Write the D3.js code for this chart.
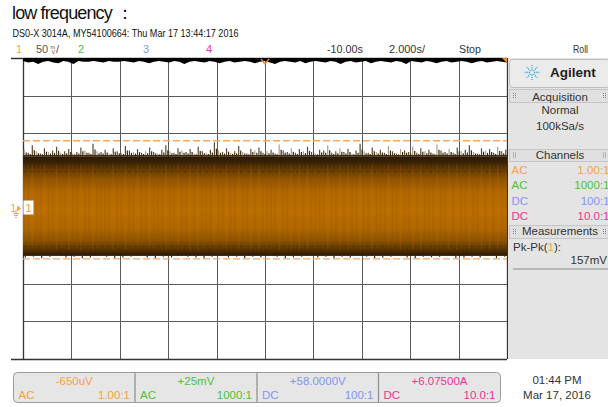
<!DOCTYPE html>
<html><head><meta charset="utf-8">
<script src="https://cdn.jsdelivr.net/npm/d3@7/dist/d3.min.js"></script>
<style>
html,body{margin:0;padding:0;background:#fff;}
svg{display:block;}
text{font-family:'Liberation Sans Narrow','Liberation Sans',Arial,sans-serif;}
</style></head>
<body>
<svg id="c" width="608" height="407"></svg>
<script>
// ---------- data ----------
const timeDomain = [-20, 0];          // seconds (roll mode, 2 s/div, delay -10 s)
const voltDomain = [-200, 200];       // mV (50 mV/div, 8 div)
const xTicks = [-20, -18, -16, -14, -12, -10, -8, -6, -4, -2, 0];
const yTicks = [-200, -150, -100, -50, 0, 50, 100, 150, 200];
const bandHigh = 69;                  // dense envelope top (mV)
const bandLow = -63;                  // dense envelope bottom (mV)
const pkMax = 90, pkMin = -67;        // Pk-Pk markers (157 mV)
const upperPeaks = [78,74,84,76,73,80,75,77,82,74,76,79,73,75,81,77,74,86,76,75,78,73,80,76,74,83,77,75,79,74,
  76,81,75,73,78,84,76,74,80,77,75,79,73,82,76,74,78,88,77,75,80,74,76,83,75,73,79,77,81,74,
  76,78,73,85,77,75,80,74,79,76,82,75,73,78,77,84,74,76,80,75,79,73,77,86,76,74,81,75,78,74,
  83,76,73,79,77,75,82,74,80,76,78,73,85,77,75,79,74,81,76,78,84,75,73,80,77,79,74,82,76,78];
const lowerPeaks = [-65,-64,-66,-64,-63,-65,-64,-66,-65,-63,-64,-66,-65,-64,-63,-65,-66,-64,-65,-63,
  -64,-65,-66,-64,-63,-65,-64,-66,-64,-65,-63,-64,-66,-65,-64,-63,-65,-64,-66,-64,
  -65,-63,-64,-66,-65,-64,-63,-65,-66,-64,-65,-64,-63,-66,-65,-64,-65,-63,-66,-64];
const overviewTrace = [196,194,195,192,195,196,194,193,196,195,192,196,195,195,196,195,194,196,195,195,
  196,195,194,196,195,193,195,196,195,194,196,195,192,195,196,195,194,196,195,193,
  195,196,194,195,196,195,193,195,196,194,192,195,196,195,194,196,193,195,196,195,
  194,196,195,192,195,196,194,195,196,193,195,196,195,194,196,195,192,196,195,194,
  196,195,193,195,196,194,195,196,195,193,195,196,194,195,196,195,194];
const chNames = ["1", "2", "3", "4"];
const chColors = ["#f5a33a", "#4cc23c", "#8494f5", "#ee3390"];
const chCoupling = ["AC", "AC", "DC", "DC"];
const chProbe = ["1.00:1", "1000:1", "100:1", "10.0:1"];
const chOffset = ["-650uV", "+25mV", "+58.0000V", "+6.07500A"];

// ---------- scales ----------
const svg = d3.select("#c");
const x = d3.scaleLinear().domain(timeDomain).range([23, 507]);
const y = d3.scaleLinear().domain(voltDomain).range([359, 58]);

// ---------- header text ----------
svg.append("text").attr("x", 12).attr("y", 19).attr("font-size", 18)
  .style("font-family", "'Liberation Sans',Arial,sans-serif").attr("fill", "#111")
  .attr("textLength", 122).attr("lengthAdjust", "spacing")
  .text("low frequency ：");
svg.append("text").attr("x", 12.5).attr("y", 37).attr("font-size", 10.5).attr("fill", "#111")
  .attr("textLength", 226).attr("lengthAdjust", "spacingAndGlyphs")
  .text("DS0-X 3014A, MY54100664: Thu Mar 17 13:44:17 2016");

svg.append("text").attr("x", 16).attr("y", 53).attr("font-size", 11).attr("fill", chColors[0]).text("1");
svg.append("text").attr("x", 36).attr("y", 53).attr("font-size", 11).attr("fill", "#555").text("50");
svg.append("text").attr("x", 50.5).attr("y", 48.5).attr("font-size", 5.5).attr("fill", "#555").text("m");
svg.append("text").attr("x", 51.5).attr("y", 53.5).attr("font-size", 5.5).attr("fill", "#555").text("V");
svg.append("text").attr("x", 56).attr("y", 53).attr("font-size", 11).attr("fill", "#555").text("/");
[[1, 78], [2, 143], [3, 206]].forEach(([i, px]) => {
  svg.append("text").attr("x", px).attr("y", 53).attr("font-size", 11).attr("fill", chColors[i]).text(chNames[i]);
});
const topRight = [["-10.00s", 327, 36], ["2.000s/", 389, 36], ["Stop", 459, 22], ["Roll", 573, 15]];
topRight.forEach(([t, px, w]) => {
  svg.append("text").attr("x", px).attr("y", 53).attr("font-size", 11).attr("fill", "#333")
    .attr("textLength", w).attr("lengthAdjust", "spacingAndGlyphs").text(t);
});

// ---------- grid ----------
const grid = svg.append("g").attr("shape-rendering", "crispEdges");
grid.selectAll("line.v").data(xTicks).join("line").attr("class", "v")
  .attr("x1", d => Math.round(x(d)) + 0.5).attr("x2", d => Math.round(x(d)) + 0.5)
  .attr("y1", y(200)).attr("y2", y(-200)).attr("stroke", "#5a5a5a").attr("stroke-width", 1);
grid.selectAll("line.h").data(yTicks).join("line").attr("class", "h")
  .attr("x1", x(-20)).attr("x2", x(0))
  .attr("y1", d => Math.round(y(d)) + 0.5).attr("y2", d => Math.round(y(d)) + 0.5)
  .attr("stroke", "#5a5a5a").attr("stroke-width", 1);
// outer frame lines
[200, -200].forEach(v => {
  svg.append("line").attr("x1", 11).attr("x2", x(0)).attr("y1", Math.round(y(v)) + 0.5).attr("y2", Math.round(y(v)) + 0.5)
    .attr("stroke", "#333").attr("stroke-width", 1.6);
});
svg.append("line").attr("x1", Math.round(x(-20)) + 0.5).attr("x2", Math.round(x(-20)) + 0.5)
  .attr("y1", y(200)).attr("y2", y(-200)).attr("stroke", "#333").attr("stroke-width", 1.3);
svg.append("line").attr("x1", Math.round(x(0)) + 0.5).attr("x2", Math.round(x(0)) + 0.5)
  .attr("y1", y(200)).attr("y2", y(-200)).attr("stroke", "#333").attr("stroke-width", 1.3);

// ---------- overview strip at top ----------
const ovx = d3.scaleLinear().domain([0, overviewTrace.length - 1]).range(timeDomain);
svg.append("path").datum(overviewTrace)
  .attr("d", d3.area().x((d, i) => x(ovx(i))).y0(y(200)).y1(d => y(d)))
  .attr("fill", "#000");

// ---------- trace ----------
const defs = svg.append("defs");
const grad = defs.append("linearGradient").attr("id", "band").attr("x1", 0).attr("x2", 0).attr("y1", 0).attr("y2", 1);
[[0, "#2a1804"], [0.07, "#3c2406"], [0.14, "#663c02"], [0.23, "#915500"], [0.36, "#b26800"],
 [0.55, "#bb6e00"], [0.72, "#b06700"], [0.84, "#8f5400"], [0.92, "#603800"], [0.97, "#3c2406"], [1, "#2a1804"]]
  .forEach(([o, c]) => grad.append("stop").attr("offset", o).attr("stop-color", c));

const upx = d3.scaleLinear().domain([0, upperPeaks.length - 1]).range([timeDomain[0] + 0.05, timeDomain[1] - 0.05]);
const lox = d3.scaleLinear().domain([0, lowerPeaks.length - 1]).range([timeDomain[0] + 0.1, timeDomain[1] - 0.1]);

const trace = svg.append("g");
trace.selectAll("line.up").data(upperPeaks).join("line").attr("class", "up")
  .attr("x1", (d, i) => x(upx(i))).attr("x2", (d, i) => x(upx(i)))
  .attr("y1", y(bandHigh)).attr("y2", d => y(d))
  .attr("stroke", (d, i) => i % 3 === 0 ? "#9c8c7a" : "#3e2a10").attr("stroke-width", 1.2).attr("opacity", 0.85);
trace.selectAll("line.up2").data(upperPeaks).join("line").attr("class", "up2")
  .attr("x1", (d, i) => x(upx(i)) + 2).attr("x2", (d, i) => x(upx(i)) + 2)
  .attr("y1", y(bandHigh)).attr("y2", d => y((d + bandHigh) / 2 + 1))
  .attr("stroke", "#3a2608").attr("stroke-width", 1.2);
trace.append("rect").attr("x", x(timeDomain[0])).attr("width", x(timeDomain[1]) - x(timeDomain[0]))
  .attr("y", y(bandHigh + 2)).attr("height", y(bandHigh) - y(bandHigh + 2)).attr("fill", "#3a2608");
trace.append("rect").attr("x", x(timeDomain[0])).attr("width", x(timeDomain[1]) - x(timeDomain[0]))
  .attr("y", y(bandHigh)).attr("height", y(bandLow) - y(bandHigh)).attr("fill", "url(#band)");
trace.selectAll("line.lo").data(lowerPeaks).join("line").attr("class", "lo")
  .attr("x1", (d, i) => x(lox(i))).attr("x2", (d, i) => x(lox(i)))
  .attr("y1", y(bandLow)).attr("y2", d => y(d))
  .attr("stroke", "#3a2608").attr("stroke-width", 1.2);
// vertical streaks
trace.selectAll("line.st").data(upperPeaks).join("line").attr("class", "st")
  .attr("x1", (d, i) => x(upx(i))).attr("x2", (d, i) => x(upx(i)))
  .attr("y1", y(bandHigh - 10)).attr("y2", y(bandLow + 8))
  .attr("stroke", (d, i) => d > 78 ? "#d07c00" : "#8a5000").attr("stroke-width", 1.5).attr("opacity", 0.18);
// grid lines faintly visible through trace
trace.selectAll("line.gh").data(yTicks.filter(v => v < bandHigh && v > bandLow && v !== 0)).join("line").attr("class", "gh")
  .attr("x1", x(-20)).attr("x2", x(0))
  .attr("y1", d => Math.round(y(d)) + 0.5).attr("y2", d => Math.round(y(d)) + 0.5)
  .attr("stroke", "#3a2a18").attr("stroke-dasharray", "3,4").attr("opacity", 0.55).attr("shape-rendering", "crispEdges");

// Pk-Pk markers
[pkMax, pkMin].forEach(v => {
  svg.append("line").attr("x1", x(-20)).attr("x2", x(0)).attr("y1", y(v)).attr("y2", y(v))
    .attr("stroke", "#fba55a").attr("stroke-width", 1.4).attr("stroke-dasharray", "7,3");
});

// trigger/time reference marker
const tx = x(-10);
svg.append("path").attr("d", `M${tx - 4},${y(200) + 1}L${tx},${y(200) + 6}L${tx + 4},${y(200) + 1}`)
  .attr("fill", "none").attr("stroke", "#f08a20").attr("stroke-width", 1.3);
svg.append("path").attr("d", `M${x(0) - 5},${y(200)}L${x(0)},${y(200)}L${x(0)},${y(200) + 5}Z`).attr("fill", "#f08a20");

// channel 1 ground marker
const gy = y(0);
svg.append("text").attr("x", 10.5).attr("y", gy + 3).attr("font-size", 10).attr("fill", chColors[0]).text("1");
svg.append("path").attr("d", `M17,${gy - 3}L21,${gy}L17,${gy + 3}Z`).attr("fill", chColors[0]);
svg.append("path").attr("d", `M16,${gy + 1}V${gy + 5}M13,${gy + 5}H19M14,${gy + 7}H18M15,${gy + 9}H17`)
  .attr("stroke", chColors[0]).attr("stroke-width", 0.9).attr("fill", "none");
svg.append("rect").attr("x", 23.5).attr("y", gy - 8).attr("width", 10).attr("height", 14).attr("fill", "#fff");
svg.append("text").attr("x", 28.5).attr("y", gy + 3.5).attr("font-size", 11).attr("text-anchor", "middle")
  .attr("fill", chColors[0]).text("1");

// ---------- right panel ----------
const P = svg.append("g");
P.append("rect").attr("x", 508).attr("y", 58).attr("width", 100).attr("height", 301).attr("fill", "#e4e4e4");
P.append("rect").attr("x", 509.5).attr("y", 59.5).attr("width", 100).attr("height", 28).attr("rx", 3)
  .attr("fill", "#ebebeb").attr("stroke", "#bdbdbd");
// Agilent logo spark
const lg = P.append("g").attr("transform", "translate(532,72.5)");
d3.range(8).forEach(k => {
  const a = k * Math.PI / 4;
  lg.append("line").attr("x1", Math.cos(a) * 2).attr("y1", Math.sin(a) * 2)
    .attr("x2", Math.cos(a) * 7.5).attr("y2", Math.sin(a) * 7.5)
    .attr("stroke", "#38a8dc").attr("stroke-width", 1.3).attr("stroke-dasharray", "1.3,1");
});
P.append("text").attr("x", 550).attr("y", 77).attr("font-size", 13.5).attr("font-weight", "bold")
  .style("font-family", "'Liberation Sans',Arial,sans-serif").attr("fill", "#222").text("Agilent");

function header(y0, y1, label, base) {
  P.append("rect").attr("x", 509.5).attr("y", y0 + 0.5).attr("width", 100).attr("height", y1 - y0)
    .attr("fill", "#e0e0e0").attr("stroke", "#c6c6c6");
  [513, 603].forEach(dx => {
    [0, 1].forEach(c => [0, 1, 2].forEach(r => {
      P.append("rect").attr("x", dx + c * 2).attr("y", (y0 + y1) / 2 - 2.5 + r * 2).attr("width", 1).attr("height", 1).attr("fill", "#888");
    }));
  });
  P.append("text").attr("x", 560).attr("y", base).attr("text-anchor", "middle").attr("font-size", 11.5)
    .attr("fill", "#333").text(label);
}
header(89, 102, "Acquisition", 100.5);
P.append("text").attr("x", 560).attr("y", 114).attr("text-anchor", "middle").attr("font-size", 11.5).attr("fill", "#333").text("Normal");
P.append("text").attr("x", 560).attr("y", 130).attr("text-anchor", "middle").attr("font-size", 11.5).attr("fill", "#333").text("100kSa/s");
header(149, 161, "Channels", 159);
const rowY = [174, 189, 204.5, 220];
chCoupling.forEach((c, i) => {
  P.append("text").attr("x", 511.5).attr("y", rowY[i]).attr("font-size", 11.5).attr("fill", chColors[i]).text(c);
  P.append("text").attr("x", 609.5).attr("y", rowY[i]).attr("text-anchor", "end").attr("font-size", 11.5).attr("fill", chColors[i]).text(chProbe[i]);
});
header(225, 238, "Measurements", 235);
const pk = P.append("text").attr("x", 513).attr("y", 251).attr("font-size", 11.5).attr("fill", "#333");
pk.append("tspan").text("Pk-Pk(");
pk.append("tspan").attr("fill", chColors[0]).text("1");
pk.append("tspan").text("):");
P.append("text").attr("x", 607).attr("y", 264).attr("text-anchor", "end").attr("font-size", 11.5).attr("fill", "#333")
  .text(Math.round(pkMax - pkMin) + "mV");
P.append("line").attr("x1", 513).attr("x2", 608).attr("y1", 269).attr("y2", 269).attr("stroke", "#a8a8a8").attr("stroke-width", 1.5);

// ---------- bottom channel bar ----------
const B = svg.append("g");
B.append("rect").attr("x", 13.5).attr("y", 372.5).attr("width", 487).attr("height", 30).attr("rx", 4)
  .attr("fill", "#e6e6e6").attr("stroke", "#9a9a9a");
const cellX = [13.5, 135, 257, 378.5, 500.5];
[1, 2, 3].forEach(k => B.append("line").attr("x1", cellX[k]).attr("x2", cellX[k]).attr("y1", 373).attr("y2", 402)
  .attr("stroke", "#8c8c8c").attr("stroke-width", 1.2));
chOffset.forEach((o, i) => {
  const l = cellX[i], r = cellX[i + 1];
  B.append("text").attr("x", (l + r) / 2).attr("y", 385).attr("text-anchor", "middle").attr("font-size", 11.5)
    .attr("fill", chColors[i]).text(o);
  B.append("text").attr("x", l + 5).attr("y", 399).attr("font-size", 11.5).attr("fill", chColors[i]).text(chCoupling[i]);
  B.append("text").attr("x", r - 5).attr("y", 399).attr("text-anchor", "end").attr("font-size", 11.5).attr("fill", chColors[i]).text(chProbe[i]);
});
B.append("text").attr("x", 557).attr("y", 383.5).attr("text-anchor", "middle").attr("font-size", 11.5).attr("fill", "#333").text("01:44 PM");
B.append("text").attr("x", 557).attr("y", 399).attr("text-anchor", "middle").attr("font-size", 11.5).attr("fill", "#333").text("Mar 17, 2016");
</script>
</body></html>
